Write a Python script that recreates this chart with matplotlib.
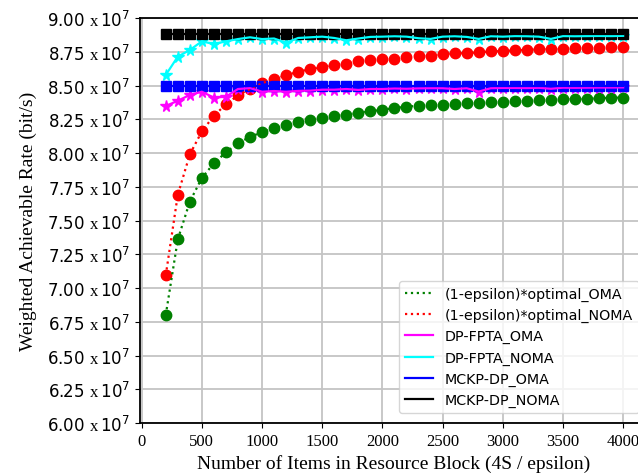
import matplotlib
matplotlib.use("Agg")
import matplotlib.pyplot as plt
from matplotlib.ticker import FuncFormatter, MultipleLocator

plt.rcParams["mathtext.fontset"] = "custom"
plt.rcParams["mathtext.rm"] = "Liberation Serif"
plt.rcParams["mathtext.sf"] = "DejaVu Sans"

# Number of items (4S / epsilon)
items = list(range(200, 4001, 100))

# Weighted achievable rate, in units of 1e7 bit/s
opt_oma = [6.80, 7.36, 7.64, 7.815, 7.924, 8.005, 8.072, 8.12, 8.153, 8.185,
           8.207, 8.227, 8.247, 8.259, 8.272, 8.284, 8.296, 8.309, 8.32, 8.333,
           8.343, 8.35, 8.355, 8.358, 8.365, 8.37, 8.372, 8.378, 8.38, 8.385,
           8.386, 8.392, 8.393, 8.398, 8.40, 8.401, 8.405, 8.41, 8.41]
opt_noma = [7.094, 7.69, 7.99, 8.16, 8.276, 8.36, 8.427, 8.474, 8.516, 8.551,
            8.575, 8.603, 8.62, 8.637, 8.652, 8.662, 8.679, 8.687, 8.694, 8.699,
            8.709, 8.716, 8.721, 8.73, 8.738, 8.74, 8.745, 8.753, 8.755, 8.76,
            8.765, 8.767, 8.77, 8.771, 8.778, 8.779, 8.78, 8.785, 8.785]
fpta_oma = [8.348, 8.387, 8.43, 8.454, 8.41, 8.417, 8.474, 8.481, 8.454, 8.459,
            8.454, 8.46, 8.462, 8.469, 8.469, 8.474, 8.467, 8.474, 8.474, 8.478,
            8.476, 8.479, 8.48, 8.48, 8.474, 8.48, 8.455, 8.48, 8.482, 8.482,
            8.481, 8.483, 8.476, 8.484, 8.483, 8.484, 8.485, 8.485, 8.486]
fpta_noma = [8.578, 8.714, 8.763, 8.827, 8.807, 8.827, 8.844, 8.857, 8.844, 8.848,
             8.817, 8.852, 8.857, 8.862, 8.852, 8.835, 8.848, 8.86, 8.862, 8.865,
             8.862, 8.85, 8.845, 8.862, 8.865, 8.86, 8.845, 8.865, 8.862, 8.866,
             8.865, 8.862, 8.845, 8.866, 8.865, 8.866, 8.867, 8.866, 8.868]
mckp_oma = [8.495] * len(items)
mckp_noma = [8.88] * len(items)

fig = plt.figure(figsize=(6.38, 4.77), dpi=100)
ax = fig.add_axes([140 / 638, 53 / 477, 0.795, 405 / 477])

ax.grid(True, color="#c4c4c4", linewidth=1.3, zorder=0)
ax.set_axisbelow(True)

# marker-only traces (kept out of the legend)
ax.plot(items, opt_oma, "o", color="green", markersize=7.5)
ax.plot(items, opt_noma, "o", color="red", markersize=7.5)
ax.plot(items, fpta_oma, "*", color="magenta", markersize=8.5)
ax.plot(items, fpta_noma, "*", color="cyan", markersize=8.5)
ax.plot(items, mckp_oma, "s", color="blue", markersize=6.5)
ax.plot(items, mckp_noma, "s", color="black", markersize=6.5)

# lines with legend labels
ax.plot(items, opt_oma, ":", color="green", linewidth=1.6, label="(1-epsilon)*optimal_OMA")
ax.plot(items, opt_noma, ":", color="red", linewidth=1.6, label="(1-epsilon)*optimal_NOMA")
ax.plot(items, fpta_oma, "-", color="magenta", linewidth=1.6, label="DP-FPTA_OMA")
ax.plot(items, fpta_noma, "-", color="cyan", linewidth=1.6, label="DP-FPTA_NOMA")
ax.plot(items, mckp_oma, "-", color="blue", linewidth=1.6, label="MCKP-DP_OMA")
ax.plot(items, mckp_noma, "-", color="black", linewidth=1.6, label="MCKP-DP_NOMA")

ax.set_xlim(-14, 4200)
ax.set_ylim(6.0, 9.0)
ax.xaxis.set_major_locator(MultipleLocator(500))
ax.yaxis.set_major_locator(MultipleLocator(0.25))
ax.yaxis.set_major_formatter(FuncFormatter(
    lambda v, p: f"{v:.2f} " + r"$\mathrm{x}\,\mathsf{10}^{\mathsf{7}}$"))

for lab in ax.get_xticklabels():
    lab.set_fontfamily("Liberation Serif")
    lab.set_fontsize(12)
for lab in ax.get_yticklabels():
    lab.set_fontsize(12)

ax.set_xlabel("Number of Items in Resource Block (4S / epsilon)",
              fontfamily="Liberation Serif", fontsize=14)
ax.set_ylabel("Weighted Achievable Rate (bit/s)",
              fontfamily="Liberation Serif", fontsize=14, labelpad=7)

for side in ("left", "bottom", "top", "right"):
    ax.spines[side].set_linewidth(1.3)

ax.legend(loc="upper left", bbox_to_anchor=(399 / 638, 1 - 282 / 477),
          bbox_transform=fig.transFigure, borderaxespad=0, fontsize=10.3)

fig.savefig("out.png", dpi=100)
